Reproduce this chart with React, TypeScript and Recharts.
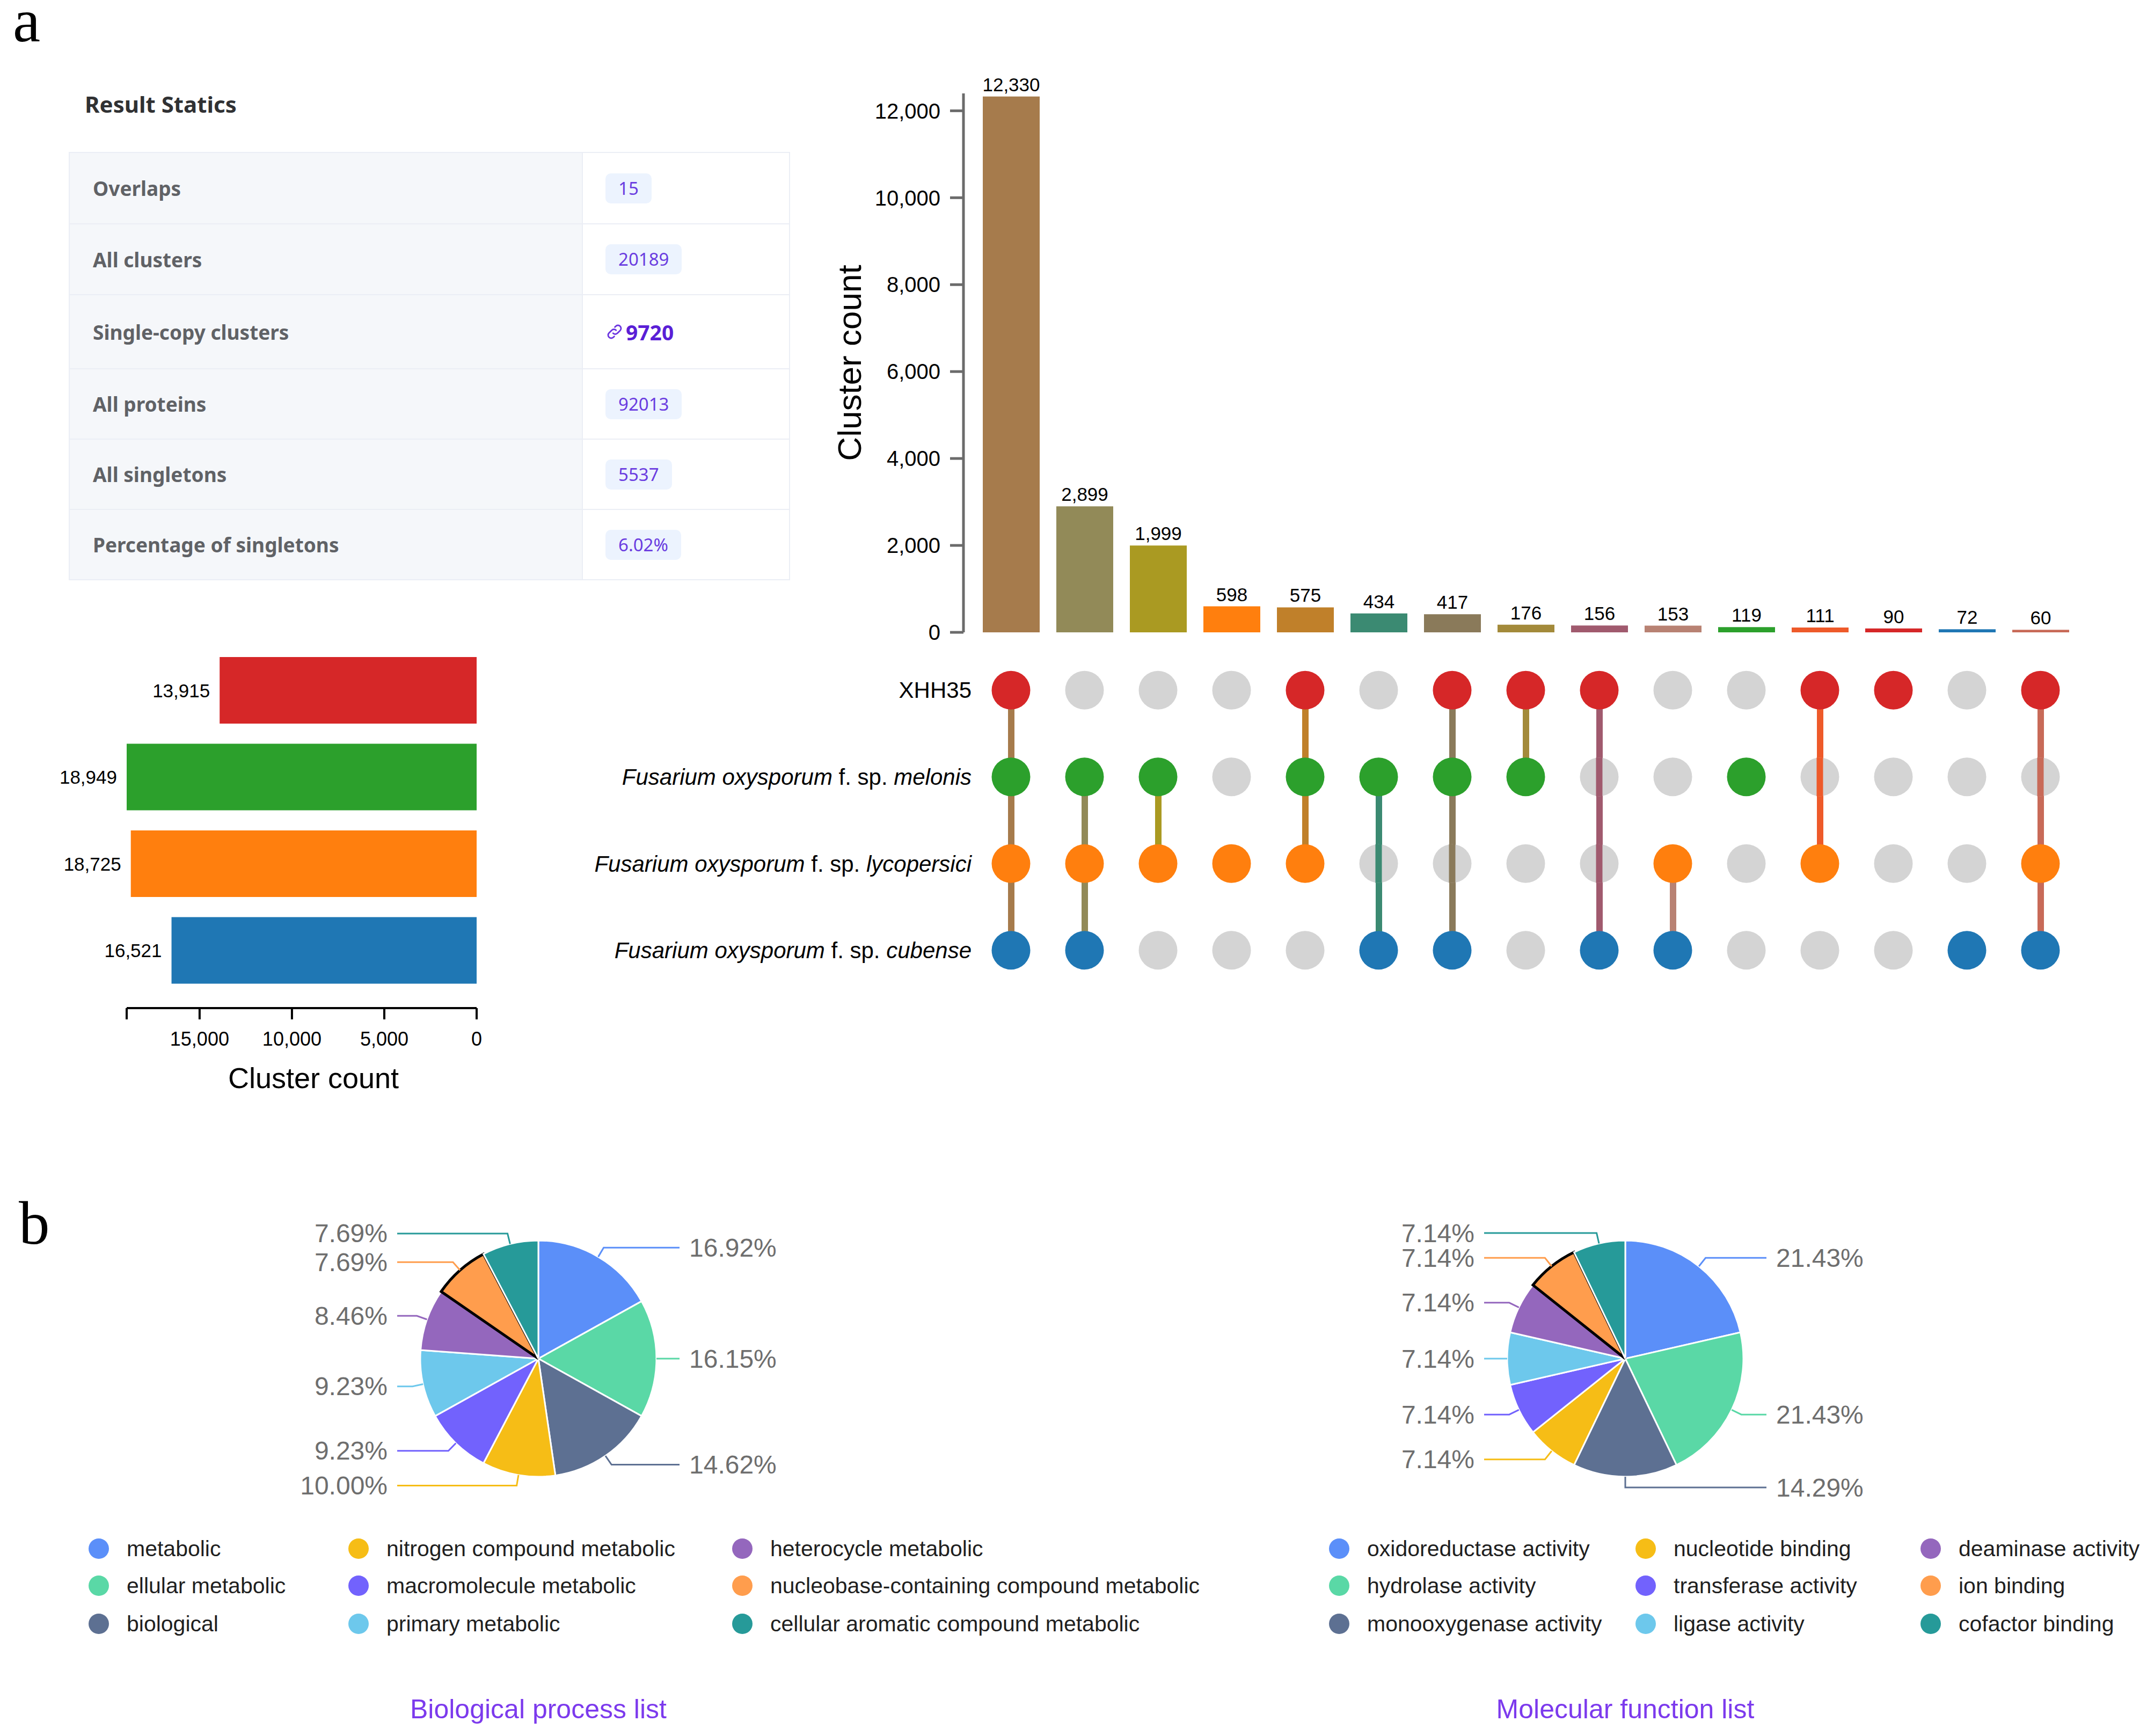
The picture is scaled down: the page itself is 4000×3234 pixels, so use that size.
import React from 'react'
import {
  BarChart,
  Bar,
  XAxis,
  YAxis,
  LabelList,
  Cell,
  ComposedChart,
  Line,
  PieChart,
  Pie,
  Legend,
} from 'recharts'

// ---- upset data ----
const setNames = [
  'XHH35',
  'Fusarium oxysporum f. sp. melonis',
  'Fusarium oxysporum f. sp. lycopersici',
  'Fusarium oxysporum f. sp. cubense',
]
const setSizes = [13915, 18949, 18725, 16521]
const setColors = ['#d62728', '#2ca02c', '#ff7f0e', '#1f77b4']

const intersectionCounts = [12330, 2899, 1999, 598, 575, 434, 417, 176, 156, 153, 119, 111, 90, 72, 60]
const intersectionMembers = [
  [0, 1, 2, 3], [1, 2, 3], [1, 2], [2], [0, 1, 2], [1, 3], [0, 1, 3], [0, 1],
  [0, 3], [2, 3], [1], [0, 2], [0], [3], [0, 2, 3],
]
const intersectionColors = [
  '#a67b4c', '#928a58', '#aa9a22', '#ff7f0e', '#c0802a', '#3b8a72', '#8a7a5a', '#a38a3a',
  '#a05a6e', '#b88273', '#2ca02c', '#ee5a2a', '#d62728', '#1f77b4', '#c86a58',
]
const countTicks = [0, 2000, 4000, 6000, 8000, 10000, 12000]
const setSizeTicks = [0, 5000, 10000, 15000]

// ---- result statics ----
const statLabels = ['Overlaps', 'All clusters', 'Single-copy clusters', 'All proteins', 'All singletons', 'Percentage of singletons']
const statValues = ['15', '20189', '9720', '92013', '5537', '6.02%']
const linkRow = 2

// ---- GO pies ----
const bpNames = [
  'metabolic', 'ellular metabolic', 'biological', 'nitrogen compound metabolic', 'macromolecule metabolic',
  'primary metabolic', 'heterocycle metabolic', 'nucleobase-containing compound metabolic', 'cellular aromatic compound metabolic',
]
const bpCounts = [22, 21, 19, 13, 12, 12, 11, 10, 10]
const mfNames = [
  'oxidoreductase activity', 'hydrolase activity', 'monooxygenase activity', 'nucleotide binding', 'transferase activity',
  'ligase activity', 'deaminase activity', 'ion binding', 'cofactor binding',
]
const mfCounts = [3, 3, 2, 1, 1, 1, 1, 1, 1]
const pieColors = ['#5b8ff9', '#5ad8a6', '#5d7092', '#f6bd16', '#7262fd', '#6dc8ec', '#9467bd', '#ff9d4d', '#269a99']
const highlightSlice = 7

const SANS = '"Liberation Sans", Arial, sans-serif'
const UI = '"Noto Sans", "Open Sans", sans-serif'
const RAD = Math.PI / 180
const maxSetSize = Math.max(...setSizes)

const columns = intersectionCounts.map((count, i) => ({
  key: `I${i + 1}`,
  count,
  members: intersectionMembers[i],
  span: [Math.min(...intersectionMembers[i]), Math.max(...intersectionMembers[i])],
}))
const setData = setNames.map((name, i) => ({ name, size: setSizes[i] }))
const bpData = bpNames.map((name, i) => ({ name, value: bpCounts[i] }))
const mfData = mfNames.map((name, i) => ({ name, value: mfCounts[i] }))

const fmt = (v: any) => Number(v).toLocaleString('en-US')

const SetTick = (props: any) => {
  const { x, y, payload } = props
  const name = setNames[payload.value]
  const m = name.match(/^(.*?)( f\. sp\. )(.*)$/)
  return (
    <text x={x + 15} y={y} textAnchor="end" dominantBaseline="central" fontSize={42} fontFamily={SANS} fill="#000" style={{ whiteSpace: 'pre' }}>
      {m ? (
        <>
          <tspan fontStyle="italic">{m[1]}</tspan>
          <tspan>{m[2]}</tspan>
          <tspan fontStyle="italic">{m[3]}</tspan>
        </>
      ) : name}
    </text>
  )
}

const renderDot = (row: number) => (props: any) => {
  const { cx, cy, index, payload } = props
  const member = payload.members.includes(row)
  const [lo, hi] = payload.span
  const crossed = !member && row > lo && row < hi
  return (
    <g key={`dot-${row}-${index}`}>
      <circle cx={cx} cy={cy} r={36} fill={member ? setColors[row] : '#d4d4d4'} />
      {crossed && <rect x={cx - 6} y={cy - 36} width={12} height={72} fill={intersectionColors[index]} />}
    </g>
  )
}

const SetSizeLabel = (props: any) => {
  const { x, y, width, height, value } = props
  const left = Math.min(x, x + width)
  return (
    <text x={left - 18} y={y + height / 2} textAnchor="end" dominantBaseline="central" fontSize={35} fontFamily={SANS} fill="#000">
      {fmt(value)}
    </text>
  )
}

const PieLabel = (props: any) => {
  const { cx, cy, midAngle, outerRadius, percent, index } = props
  const cos = Math.cos(-midAngle * RAD)
  const sin = Math.sin(-midAngle * RAD)
  const sx = cx + outerRadius * cos
  const sy = cy + outerRadius * sin
  const ex = cx + (outerRadius + 20) * cos
  const ey = cy + (outerRadius + 20) * sin
  const right = cos >= -1e-9
  const hx = right ? cx + outerRadius + 43 : cx - outerRadius - 43
  return (
    <g>
      <polyline points={`${sx},${sy} ${ex},${ey} ${hx},${ey}`} fill="none" stroke={pieColors[index]} strokeWidth={3} />
      <text x={right ? hx + 18 : hx - 18} y={ey} textAnchor={right ? 'start' : 'end'} dominantBaseline="central" fontSize={48} fontFamily={SANS} fill="#6e6e6e">
        {`${(percent * 100).toFixed(2)}%`}
      </text>
    </g>
  )
}

const legendRows = [635, 704, 775]
// legend keeps data order (column-major, 3 rows)
const makeLegend = (names: string[], colX: number[]) => (props: any) => {
  const items = [...(props.payload || [])].sort((a: any, b: any) => names.indexOf(a.value) - names.indexOf(b.value))
  return (
    <div style={{ position: 'relative', height: 0 }}>
      {items.map((entry: any) => {
        const i = names.indexOf(entry.value)
        return (
          <div
            key={entry.value}
            style={{
              position: 'absolute', left: colX[Math.floor(i / 3)] - 19, top: legendRows[i % 3] - 30, height: 60,
              display: 'flex', alignItems: 'center', whiteSpace: 'nowrap', fontSize: 41, color: '#1f1f1f', fontFamily: SANS,
            }}
          >
            <span style={{ width: 38, height: 38, borderRadius: '50%', background: pieColors[i], marginRight: 33, display: 'inline-block' }} />
            {entry.value}
          </div>
        )
      })}
    </div>
  )
}

const GoPie = ({ data, names, cx, colX, left, title }: any) => (
  <div style={{ position: 'absolute', left, top: 2250 }}>
    <PieChart width={2000} height={984} margin={{ top: 0, right: 0, bottom: 0, left: 0 }}>
      <Pie
        data={data}
        dataKey="value"
        nameKey="name"
        cx={cx}
        cy={281}
        outerRadius={220}
        startAngle={90}
        endAngle={-270}
        stroke="#fff"
        strokeWidth={3}
        label={PieLabel}
        labelLine={false}
        isAnimationActive={false}
      >
        {data.map((_: any, i: number) => (
          <Cell key={i} fill={pieColors[i]} stroke={i === highlightSlice ? '#000' : '#fff'} strokeWidth={i === highlightSlice ? 5 : 3} />
        ))}
      </Pie>
      <Legend content={makeLegend(names, colX)} wrapperStyle={{ top: 0, left: 0, bottom: 'auto' }} />
    </PieChart>
    <div style={{ position: 'absolute', left: cx - 500, width: 1000, top: 3184 - 2250 - 30, height: 60, lineHeight: '60px', textAlign: 'center', fontSize: 50, color: '#7c3aed', fontFamily: SANS }}>
      {title}
    </div>
  </div>
)

const rowHeights = [131, 132, 138, 131, 131, 131]

const StatsTable = () => (
  <>
    <div style={{ position: 'absolute', left: 158, top: 164, height: 60, lineHeight: '60px', fontSize: 42, fontWeight: 700, color: '#303133', fontFamily: UI }}>
      Result Statics
    </div>
    <div style={{ position: 'absolute', left: 128, top: 283, width: 1344, boxSizing: 'border-box', border: '2px solid #ebeef5', fontFamily: UI }}>
      {statLabels.map((label, i) => (
        <div key={label} style={{ display: 'flex', boxSizing: 'border-box', height: rowHeights[i], borderTop: i ? '2px solid #ebeef5' : 'none' }}>
          <div style={{ width: 956, boxSizing: 'border-box', background: '#f5f7fa', borderRight: '2px solid #ebeef5', display: 'flex', alignItems: 'center', paddingLeft: 43, fontSize: 37, fontWeight: 700, color: '#606266' }}>
            {label}
          </div>
          <div style={{ flex: 1, display: 'flex', alignItems: 'center', paddingLeft: 42 }}>
            {i === linkRow ? (
              <span style={{ display: 'flex', alignItems: 'center', color: '#5a1fd6', fontSize: 39, fontWeight: 700 }}>
                <svg width="34" height="34" viewBox="0 0 24 24" style={{ marginRight: 4 }}>
                  <path d="M10 14a4 4 0 0 0 5.7 0l3.6-3.6a4 4 0 0 0-5.7-5.7l-1.2 1.2M14 10a4 4 0 0 0-5.7 0l-3.6 3.6a4 4 0 0 0 5.7 5.7l1.2-1.2" fill="none" stroke="#6b35e0" strokeWidth="2" strokeLinecap="round" />
                </svg>
                {statValues[i]}
              </span>
            ) : (
              <span style={{ background: '#ecf3fe', color: '#6a3ce0', fontSize: 33, height: 56, lineHeight: '56px', padding: '0 24px', borderRadius: 10 }}>
                {statValues[i]}
              </span>
            )}
          </div>
        </div>
      ))}
    </div>
  </>
)

export default function App() {
  return (
    <div style={{ position: 'absolute', left: 0, top: 0, width: 4000, height: 3234, background: '#fff', overflow: 'hidden' }}>
      <div style={{ position: 'absolute', left: 24, top: 0, fontSize: 115, lineHeight: '77px', fontFamily: '"Liberation Serif", serif' }}>a</div>
      <div style={{ position: 'absolute', left: 35, top: 2240, fontSize: 115, lineHeight: '77px', fontFamily: '"Liberation Serif", serif' }}>b</div>

      <StatsTable />

      {/* intersection sizes */}
      <div style={{ position: 'absolute', left: 0, top: 0 }}>
        <BarChart width={4000} height={1250} data={columns} margin={{ top: 174, right: 115, bottom: 72, left: 0 }}>
          <XAxis dataKey="key" height={0} tick={false} tickLine={false} axisLine={{ stroke: '#6f757b', strokeWidth: 5 }} padding={{ left: 20, right: 15 }} />
          <YAxis
            width={1795}
            domain={[0, 12400]}
            ticks={countTicks}
            tickFormatter={fmt}
            tickSize={25}
            tickMargin={18}
            axisLine={{ stroke: '#6b6b6b', strokeWidth: 5 }}
            tickLine={{ stroke: '#6b6b6b', strokeWidth: 5 }}
            tick={{ fontSize: 40, fill: '#000', fontFamily: SANS }}
            label={{
              content: (p: any) => {
                const vb = p.viewBox
                const lx = vb.x + vb.width - 213
                const ly = vb.y + vb.height / 2
                return (
                  <text x={lx} y={ly} transform={`rotate(-90, ${lx}, ${ly})`} textAnchor="middle" dominantBaseline="central" fontSize={62} fontFamily={SANS} fill="#000">
                    Cluster count
                  </text>
                )
              },
            }}
          />
          <Bar dataKey="count" barSize={106} isAnimationActive={false}>
            {columns.map((c, i) => <Cell key={c.key} fill={intersectionColors[i]} />)}
            <LabelList dataKey="count" position="top" offset={10} formatter={fmt} fontSize={35} fill="#000" fontFamily={SANS} />
          </Bar>
        </BarChart>
      </div>

      {/* membership matrix */}
      <div style={{ position: 'absolute', left: 0, top: 1200 }}>
        <ComposedChart width={4000} height={700} data={columns} margin={{ top: 5, right: 115, bottom: 49, left: 0 }}>
          <XAxis dataKey="key" hide padding={{ left: 20, right: 15 }} />
          <YAxis
            type="number"
            domain={[-0.5, 3.5]}
            reversed
            ticks={setNames.map((_, i) => i)}
            width={1795}
            axisLine={false}
            tickLine={false}
            tickSize={0}
            tickMargin={0}
            tick={SetTick}
          />
          <Bar dataKey="span" barSize={12} isAnimationActive={false}>
            {columns.map((c, i) => <Cell key={c.key} fill={intersectionColors[i]} />)}
          </Bar>
          {setNames.map((name, r) => (
            <Line key={name} dataKey={() => r} stroke="none" dot={renderDot(r)} activeDot={false} isAnimationActive={false} />
          ))}
        </ComposedChart>
      </div>

      {/* set sizes */}
      <div style={{ position: 'absolute', left: 0, top: 1200 }}>
        <BarChart layout="vertical" width={1000} height={860} data={setData} margin={{ top: 5, right: 112, bottom: 82, left: 236 }}>
          <YAxis type="category" dataKey="name" hide padding={{ top: 0, bottom: 27 }} />
          <XAxis
            type="number"
            reversed
            domain={[0, 'dataMax']}
            ticks={[...setSizeTicks, maxSetSize]}
            tickFormatter={(v: number) => (v === maxSetSize ? '' : fmt(v))}
            height={100}
            tickSize={21}
            tickMargin={23}
            axisLine={{ stroke: '#000', strokeWidth: 4 }}
            tickLine={{ stroke: '#000', strokeWidth: 4 }}
            tick={{ fontSize: 36, fill: '#000', fontFamily: SANS }}
            label={{
              content: (p: any) => {
                const vb = p.viewBox
                return (
                  <text x={vb.x + vb.width / 2 + 22} y={vb.y + 130} textAnchor="middle" dominantBaseline="central" fontSize={54} fontFamily={SANS} fill="#000">
                    Cluster count
                  </text>
                )
              },
            }}
          />
          <Bar dataKey="size" barSize={124} isAnimationActive={false}>
            {setData.map((d, i) => <Cell key={d.name} fill={setColors[i]} />)}
            <LabelList dataKey="size" content={SetSizeLabel} />
          </Bar>
        </BarChart>
      </div>

      <GoPie data={bpData} names={bpNames} cx={1003} colX={[184, 668, 1383]} left={0} title="Biological process list" />
      <GoPie data={mfData} names={mfNames} cx={1028} colX={[495, 1066, 1597]} left={2000} title="Molecular function list" />
    </div>
  )
}
